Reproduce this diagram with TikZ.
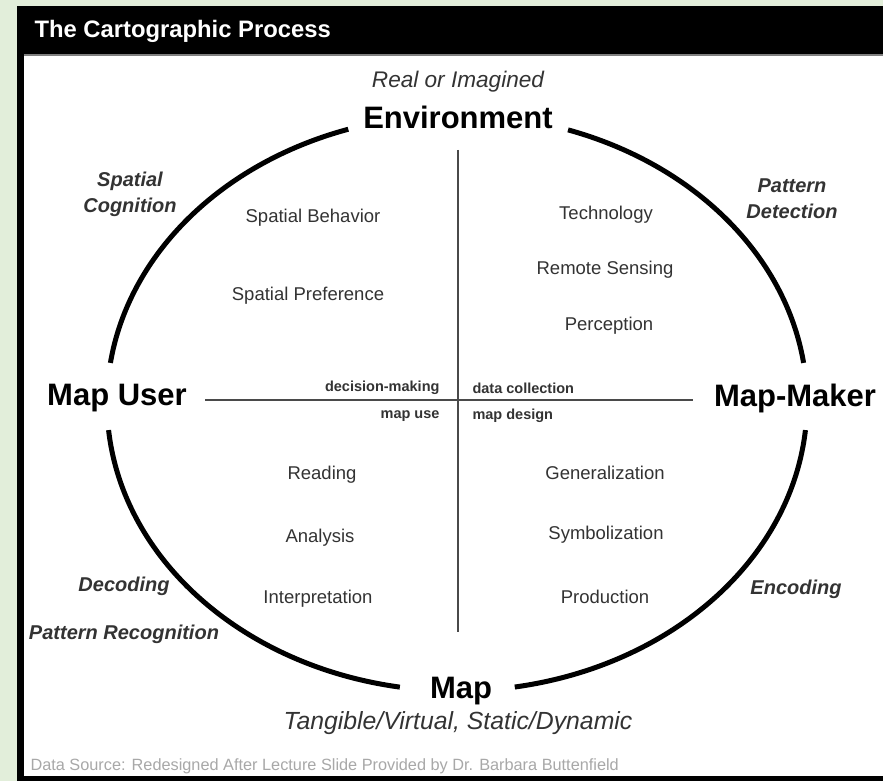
\documentclass[tikz,border=0pt]{standalone}
\usepackage{fontspec}
\setmainfont{Liberation Sans}
\definecolor{mintbg}{HTML}{E2EEDA}
\definecolor{itemgray}{HTML}{333333}
\definecolor{srcgray}{HTML}{A8A8A8}
\definecolor{crossgray}{HTML}{4A4A4A}
\begin{document}
\begin{tikzpicture}[x=1pt,y=1pt,
  role/.style={font=\bfseries\fontsize{31}{32}\selectfont},
  note/.style={font=\itshape\fontsize{22.6}{24}\selectfont,text=itemgray},
  proc/.style={font=\bfseries\itshape\fontsize{20}{26}\selectfont,align=center,text=itemgray},
  item/.style={font=\fontsize{18.5}{20}\selectfont,text=itemgray},
  tag/.style={font=\bfseries\fontsize{14.5}{16}\selectfont,text=itemgray}]
\useasboundingbox (0,0) rectangle (883,781);
\fill[color=mintbg] (0,0) rectangle (883,781);
\fill[color=black] (17,0) rectangle (883,775);
\fill[color=white] (24,5) rectangle (883,725);
\draw[color=gray,line width=2pt] (24,726) -- (883,726);

\node[anchor=west,text=white,font=\bfseries\fontsize{23.8}{25}\selectfont] (title) at (31,750) {The Cartographic Process};

% the four arcs round the process
\coordinate (c) at (457,378);
\draw[line width=5pt] (c) ++(8:350 and 288) arc[start angle=8,end angle=71.5,x radius=350,y radius=288];
\draw[line width=5pt] (c) ++(108.1:350 and 288) arc[start angle=108.1,end angle=172,x radius=350,y radius=288];
\draw[line width=5pt] (c) ++(185.4:350 and 288) arc[start angle=185.4,end angle=260.6,x radius=350,y radius=288];
\draw[line width=5pt] (c) ++(279.5:350 and 288) arc[start angle=279.5,end angle=354.6,x radius=350,y radius=288];

% cross
\coordinate (west) at (205,381);
\coordinate (east) at (693,381);
\coordinate (north) at (458,631);
\coordinate (south) at (458,149);
\draw[color=crossgray,line width=2pt] (west) -- (east);
\draw[color=crossgray,line width=2pt] (north) -- (south);

\node[note] (real) at (458,699) {Real or Imagined};
\node[role] (env) at (458,664) {Environment};
\node[role] (mapuser) at (117,383) {Map User};
\node[role] (mapmaker) at (795,383) {Map-Maker};
\node[role] (map) at (461,90) {Map};
\node[note,font=\itshape\fontsize{24.8}{26}\selectfont] (tangible) at (458,58) {Tangible/Virtual, Static/Dynamic};

\node[proc] (cog) at (130,587) {Spatial\\Cognition};
\node[proc] (detect) at (792,582) {Pattern\\Detection};
\node[proc] (decode) at (124,195) {Decoding};
\node[proc] (recog) at (124,147) {Pattern Recognition};
\node[proc] (encode) at (796,192) {Encoding};

\node[item] (behav) at (313,563) {Spatial Behavior};
\node[item] (pref) at (308,485) {Spatial Preference};
\node[item] (tech) at (606,566) {Technology};
\node[item] (remote) at (605,511) {Remote Sensing};
\node[item] (percep) at (609,455) {Perception};

\node[item] (read) at (322,306) {Reading};
\node[item] (analysis) at (320,243) {Analysis};
\node[item] (interp) at (318,182) {Interpretation};
\node[item] (general) at (605,308) {Generalization};
\node[item] (symbol) at (606,246) {Symbolization};
\node[item] (produce) at (605,184) {Production};

\node[tag,anchor=east] (decide) at (443,393) {decision-making};
\node[tag,anchor=east] (use) at (443,365) {map use};
\node[tag,anchor=west] (collect) at (469,393) {data collection};
\node[tag,anchor=west] (design) at (469,365) {map design};

\node[anchor=west,text=srcgray,font=\fontsize{16.3}{17}\selectfont] (source) at (27,15) {Data Source: Redesigned After Lecture Slide Provided by Dr. Barbara Buttenfield};
\end{tikzpicture}
\end{document}
